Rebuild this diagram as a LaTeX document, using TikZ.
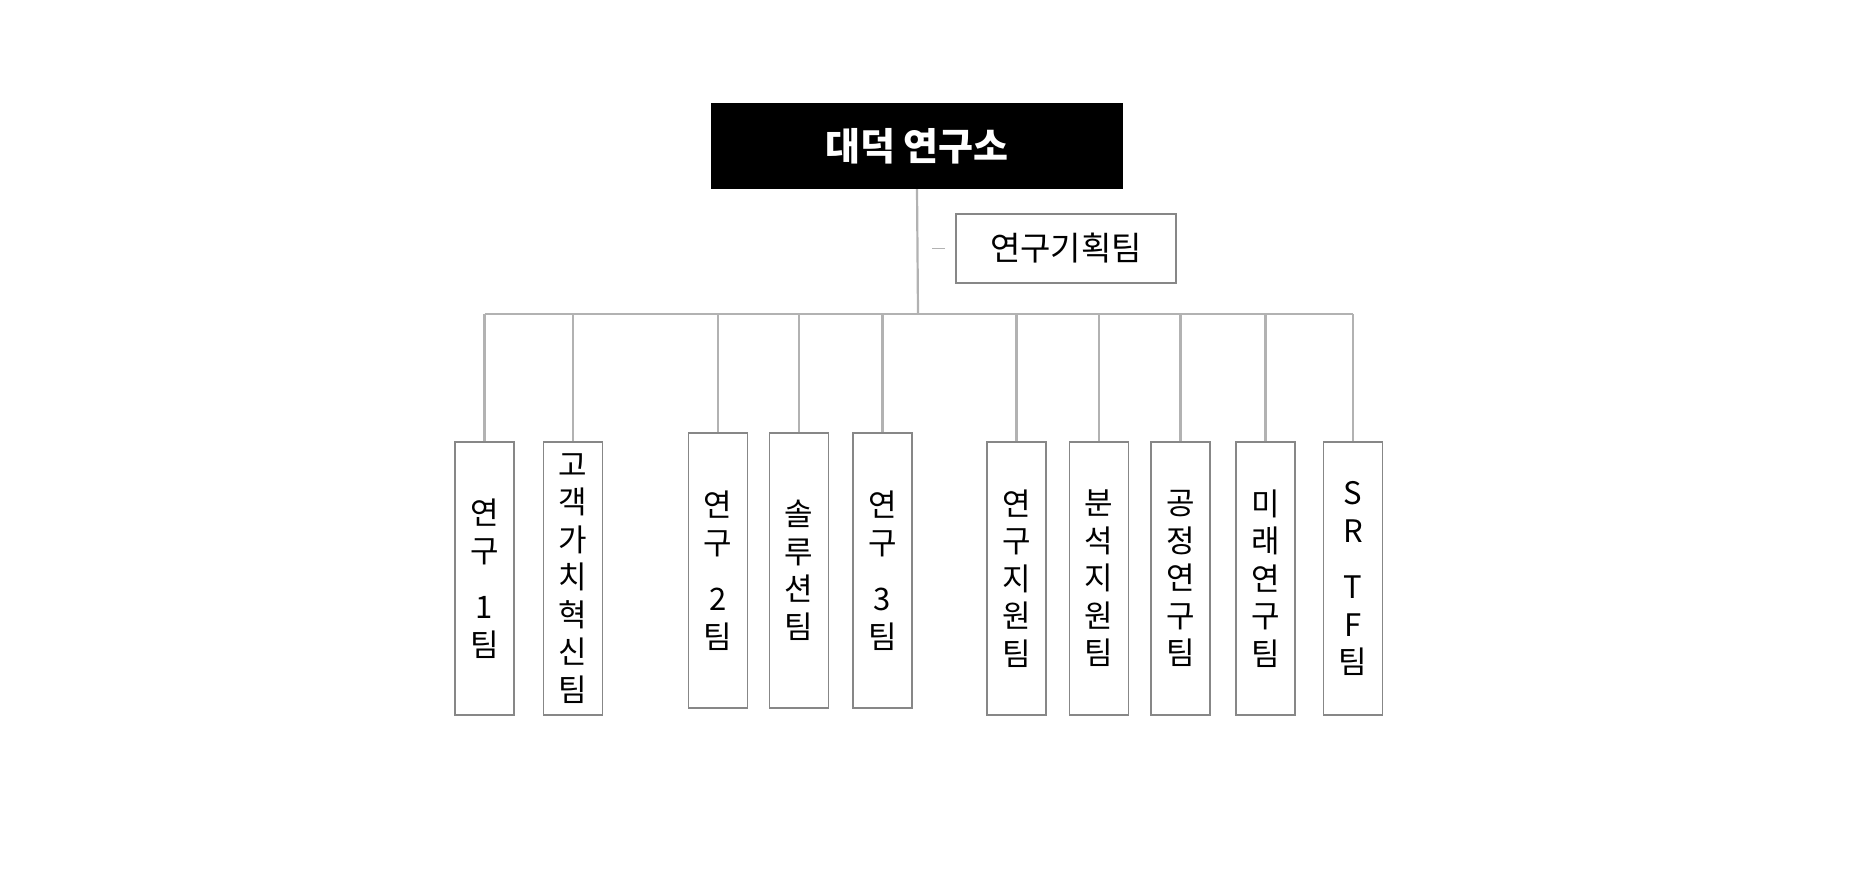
\documentclass[tikz,border=0pt]{standalone}
\usepackage{fontspec}
\setmainfont{Noto Sans CJK KR}
\tikzset{
  head/.style={fill=black, text=white, minimum width=412pt, minimum height=86pt, inner sep=0pt, font=\fontsize{38}{44}\selectfont\bfseries},
  staff/.style={draw=black!47, line width=1.8pt, minimum width=220pt, minimum height=69pt, inner sep=0pt, font=\fontsize{33}{38}\selectfont},
  team/.style={draw=black!47, line width=1.8pt, minimum width=59pt, minimum height=273pt, inner sep=0pt, align=center, font=\fontsize{31}{37.5}\selectfont},
  link/.style={draw=black!30, line width=2.2pt}
}
\begin{document}
\begin{tikzpicture}[x=1pt,y=-1pt]
        \useasboundingbox (0,0) rectangle (1862,870);
        \node[head] (lab) at (917,146) {대덕 연구소};
        \node[staff] (plan) at (1066,248.5) {연구기획팀};
        \coordinate (bus) at (918,314);

        \node[team] (t1) at (484.5,578.5) {연\\구\\[19pt]1\\팀};
        \node[team] (t2) at (573,578.5) {고\\객\\가\\치\\혁\\신\\팀};
        \node[team, minimum height=275pt] (t3) at (718,570.5) {연\\구\\[19pt]2\\팀};
        \node[team, minimum height=275pt] (t4) at (799,570.5) {솔\\루\\션\\팀};
        \node[team, minimum height=275pt] (t5) at (882.5,570.5) {연\\구\\[19pt]3\\팀};
        \node[team] (t6) at (1016.5,578.5) {연\\구\\지\\원\\팀};
        \node[team] (t7) at (1099,578.5) {분\\석\\지\\원\\팀};
        \node[team] (t8) at (1180.5,578.5) {공\\정\\연\\구\\팀};
        \node[team] (t9) at (1265.5,578.5) {미\\래\\연\\구\\팀};
        \node[team] (t10) at (1353,578.5) {S\\R\\[19pt]T\\F\\팀};

        \draw[link] (lab.south) -- (bus);
        \draw[link, line width=1.4pt] ([xshift=-10pt]plan.west) -- ++(-13,0);
        \draw[link] (t1.north |- bus) -- (t10.north |- bus);
        \draw[link] (t1.north) -- (t1.north |- bus);
        \draw[link] (t2.north) -- (t2.north |- bus);
        \draw[link] (t3.north) -- (t3.north |- bus);
        \draw[link] (t4.north) -- (t4.north |- bus);
        \draw[link] (t5.north) -- (t5.north |- bus);
        \draw[link] (t6.north) -- (t6.north |- bus);
        \draw[link] (t7.north) -- (t7.north |- bus);
        \draw[link] (t8.north) -- (t8.north |- bus);
        \draw[link] (t9.north) -- (t9.north |- bus);
        \draw[link] (t10.north) -- (t10.north |- bus);
\end{tikzpicture}
\end{document}
